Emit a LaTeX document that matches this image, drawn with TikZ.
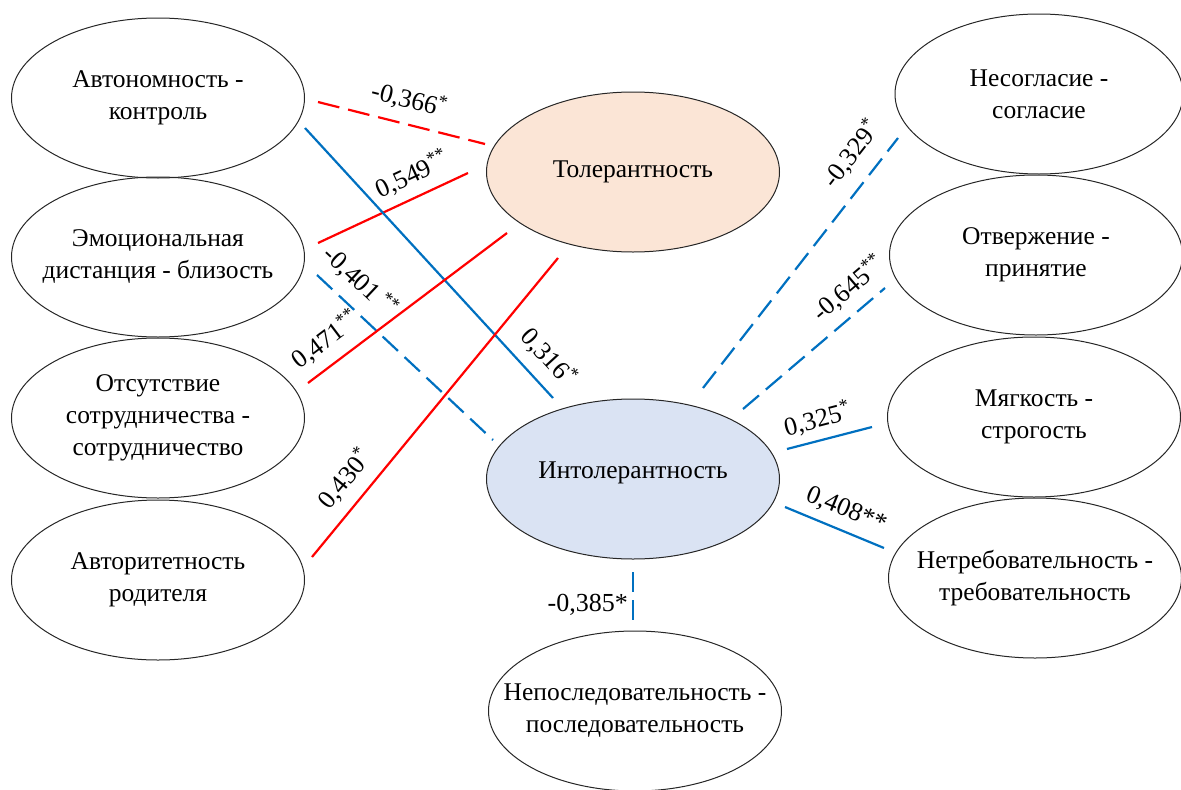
\documentclass[tikz,border=0pt]{standalone}
\usepackage{fontspec}
\setmainfont{Liberation Serif}
\usetikzlibrary{shapes.geometric}
\definecolor{cred}{HTML}{FF0000}
\definecolor{cblue}{HTML}{0070C0}
\definecolor{peach}{HTML}{FBE5D6}
\definecolor{lblue}{HTML}{DAE3F3}
\begin{document}
\begin{tikzpicture}[x=1pt,y=-1pt,
 ov/.style={ellipse, draw=black!85, line width=1pt, minimum width=293pt, minimum height=160pt, inner sep=0pt},
 txt/.style={align=center, font=\fontsize{25.5}{32}\selectfont, inner sep=0pt},
 lbl/.style={font=\fontsize{26}{28}\selectfont, inner sep=2pt, text height=18pt, text depth=4pt},
 redl/.style={draw=cred, line width=2.2pt},
 bluel/.style={draw=cblue, line width=2.2pt},
 dsh/.style={dash pattern=on 21pt off 9pt},
]
\useasboundingbox (0,0) rectangle (1181,790);
% ellipses
\node[ov] (A1) at (158,98) {};
\node[ov] (A2) at (158,257) {};
\node[ov] (A3) at (158,418) {};
\node[ov] (A4) at (158,580) {};
\node[ov, fill=peach] (T) at (633,172) {};
\node[ov, fill=lblue] (I) at (633,479) {};
\node[ov] (N) at (635,711) {};
\node[ov, minimum width=288pt] (R1) at (1039,94) {};
\node[ov] (R2) at (1036,255) {};
\node[ov] (R3) at (1034,417) {};
\node[ov] (R4) at (1035,578) {};
% texts
\node[txt] (A1t) at (A1) {Автономность -\\контроль};
\node[txt] (A2t) at (A2) {Эмоциональная\\дистанция - близость};
\node[txt] (A3t) at (A3) {Отсутствие\\сотрудничества -\\сотрудничество};
\node[txt] (A4t) at (A4) {Авторитетность\\родителя};
\node[txt] (Tt) at (T) {Толерантность};
\node[txt] (It) at ([yshift=6pt]I.center) {Интолерантность};
\node[txt] (Nt) at (N) {Непоследовательность -\\последовательность};
\node[txt] (R1t) at (R1) {Несогласие -\\согласие};
\node[txt] (R2t) at (R2) {Отвержение -\\принятие};
\node[txt] (R3t) at (R3) {Мягкость -\\строгость};
\node[txt] (R4t) at (R4) {Нетребовательность -\\требовательность};
% connector end points
\coordinate (c1a) at (318,102); \coordinate (c1b) at (485,144);
\coordinate (c2a) at (318,243); \coordinate (c2b) at (468,173);
\coordinate (c3a) at (305,128); \coordinate (c3b) at (553,398);
\coordinate (c4a) at (317,275); \coordinate (c4b) at (493,440);
\coordinate (c5a) at (308,383); \coordinate (c5b) at (507,233);
\coordinate (c6a) at (312,557); \coordinate (c6b) at (558,258);
\coordinate (c7a) at (703,388); \coordinate (c7b) at (898,138);
\coordinate (c8a) at (743,409); \coordinate (c8b) at (885,288);
\coordinate (c9a) at (787,449); \coordinate (c9b) at (872,427);
\coordinate (c10a) at (785,507); \coordinate (c10b) at (884,548);
\coordinate (c11a) at (633,572); \coordinate (c11b) at (633,622);
% connectors
\draw[redl,dash pattern=on 22pt off 9pt] (c1a) -- node[lbl,sloped,above=9pt,pos=0.51]{-0,366\textsuperscript{*}} (c1b);
\draw[redl] (c2a) -- node[lbl,sloped,above=7pt,pos=0.69]{0,549\textsuperscript{**}} (c2b);
\draw[bluel] (c3a) -- node[lbl,sloped,above=9pt,pos=0.91]{0,316\textsuperscript{*}} (c3b);
\draw[bluel,dsh] (c4a) -- node[lbl,sloped,above=9.5pt,pos=0.15]{-0,401\,\textsuperscript{**}} (c4b);
\draw[redl] (c5a) -- node[lbl,sloped,above=8.5pt,pos=0.16]{0,471\textsuperscript{**}} (c5b);
\draw[redl] (c6a) -- node[lbl,sloped,above=9pt,pos=0.21]{0,430\textsuperscript{*}} (c6b);
\draw[bluel,dsh] (c7a) -- node[lbl,sloped,above=11.5pt,pos=0.87]{-0,329\textsuperscript{*}} (c7b);
\draw[bluel,dsh] (c8a) -- node[lbl,sloped,above=8pt,pos=0.85]{-0,645\textsuperscript{**}} (c8b);
\draw[bluel] (c9a) -- node[lbl,sloped,above=5.5pt,pos=0.42]{0,325\textsuperscript{*}} (c9b);
\draw[bluel] (c10a) -- node[lbl,sloped,above=6.5pt,pos=0.54]{0,408**} (c10b);
\draw[bluel,dash pattern=on 20pt off 8pt] (c11a) -- (c11b);
\node[lbl, anchor=east] (L11) at ([xshift=-3pt,yshift=-32pt]c11a) {-0,385*};
\end{tikzpicture}
\end{document}
